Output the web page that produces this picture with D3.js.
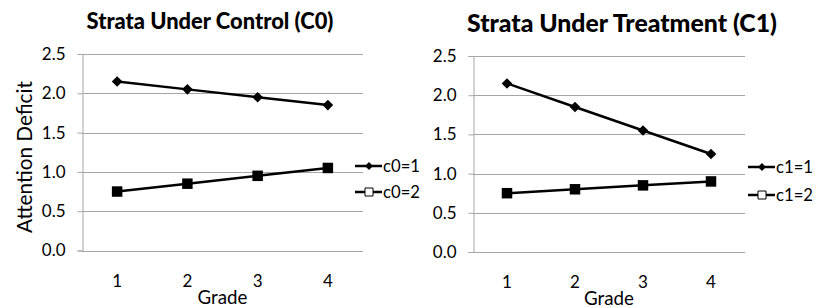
<!DOCTYPE html>
<html>
<head>
<meta charset="utf-8">
<script src="https://cdn.jsdelivr.net/npm/d3@7"></script>
<style>
  body { margin: 0; background: #fff; }
  svg { font-family: Lato, "Liberation Sans", sans-serif; }
</style>
</head>
<body>
<div id="chart"></div>
<script>
var grades = ['1', '2', '3', '4']
var yTicks = [0, 0.5, 1.0, 1.5, 2.0, 2.5]

var c0s1 = [2.15, 2.05, 1.95, 1.85]
var c0s2 = [0.75, 0.85, 0.95, 1.05]
var c1s1 = [2.15, 1.85, 1.55, 1.25]
var c1s2 = [0.75, 0.80, 0.85, 0.90]

var svg = d3.select('#chart').append('svg')
            .attr('width', 815)
            .attr('height', 308)

var panels = [
  { title: 'Strata Under Control (C0)', titleW: 247, titleX: 210, titleY: 29,
    left: 82, right: 363, top: 54, bottom: 250.5, yTitle: 'Attention Deficit',
    series: [c0s1, c0s2], names: ['c0=1', 'c0=2'],
    legX: 355, legY: [166, 192], tickY: 287, gradeY: 304 },
  { title: 'Strata Under Treatment (C1)', titleW: 310, titleX: 622, titleY: 32,
    left: 473, right: 745, top: 56, bottom: 252, yTitle: null,
    series: [c1s1, c1s2], names: ['c1=1', 'c1=2'],
    legX: 748, legY: [167, 195], tickY: 288, gradeY: 305 }
]

// scale a text's font so its width matches what the reference shows
var fit = function (sel, base, target) {
  sel.attr('font-size', base)
  var w = sel.node().getComputedTextLength()
  sel.attr('font-size', base * target / w)
  return sel
}

var diamond = d3.symbol().type(d3.symbolDiamond2).size(72)
var square = d3.symbol().type(d3.symbolSquare).size(110)

panels.forEach(function (p) {
  var x = d3.scaleBand().domain(grades).range([p.left, p.right])
  var y = d3.scaleLinear().domain([0, 2.5]).range([p.bottom, p.top])
  var g = svg.append('g')

  // gridlines
  g.selectAll('.grid').data(yTicks).enter().append('line')
   .attr('x1', p.left).attr('x2', p.right)
   .attr('y1', function (d) { return Math.round(y(d)) + 0.5 })
   .attr('y2', function (d) { return Math.round(y(d)) + 0.5 })
   .attr('stroke', '#a6a6a6').attr('stroke-width', 1)

  // y axis
  var yAxis = g.append('g')
    .attr('transform', 'translate(' + (p.left + 0.5) + ',0)')
    .call(d3.axisLeft(y).tickValues(yTicks).tickFormat(d3.format('.1f')).tickSize(5).tickPadding(12))
  yAxis.select('.domain').attr('stroke', '#a6a6a6')
  yAxis.selectAll('.tick line').attr('stroke', '#a6a6a6')
  yAxis.selectAll('text').attr('font-size', 17).attr('fill', '#000')
       .attr('font-family', 'Lato, sans-serif')

  // x tick labels
  g.selectAll('.xt').data(grades).enter().append('text')
   .attr('x', function (d) { return x(d) + x.bandwidth() / 2 })
   .attr('y', p.tickY)
   .attr('text-anchor', 'middle').attr('font-size', 17)
   .text(function (d) { return d })

  fit(g.append('text')
   .attr('x', (p.left + p.right) / 2).attr('y', p.gradeY)
   .attr('text-anchor', 'middle')
   .text('Grade'), 16, 50)

  if (p.yTitle) {
    fit(g.append('text')
     .attr('transform', 'translate(32,' + 157 + ') rotate(-90)')
     .attr('text-anchor', 'middle')
     .text(p.yTitle), 16, 152)
  }

  // title
  fit(g.append('text')
   .attr('x', p.titleX).attr('y', p.titleY)
   .attr('text-anchor', 'middle').attr('font-weight', 900)
   .text(p.title), 18, p.titleW)

  var line = d3.line()
    .x(function (d, i) { return x(grades[i]) + x.bandwidth() / 2 })
    .y(function (d) { return y(d) })

  p.series.forEach(function (s, k) {
    g.append('path').datum(s)
     .attr('d', line).attr('fill', 'none')
     .attr('stroke', '#000').attr('stroke-width', 2.5)
    g.selectAll('.m' + k).data(s).enter().append('path')
     .attr('transform', function (d, i) {
       return 'translate(' + (x(grades[i]) + x.bandwidth() / 2) + ',' + y(d) + ')'
     })
     .attr('d', k === 0 ? diamond : square)
     .attr('fill', '#000')

    // legend
    var ly = p.legY[k]
    g.append('line')
     .attr('x1', p.legX).attr('x2', p.legX + 27)
     .attr('y1', ly).attr('y2', ly)
     .attr('stroke', '#000').attr('stroke-width', 2.5)
    g.append('path')
     .attr('transform', 'translate(' + (p.legX + 14) + ',' + ly + ')')
     .attr('d', k === 0 ? d3.symbol().type(d3.symbolDiamond2).size(40) : d3.symbol().type(d3.symbolSquare).size(64))
     .attr('fill', k === 0 ? '#000' : '#fff')
     .attr('stroke', k === 0 ? 'none' : '#000').attr('stroke-width', 1)
    fit(g.append('text')
     .attr('x', p.legX + 28).attr('y', ly + 6)
     .text(p.names[k]), 16, 37)
  })
})
</script>
</body>
</html>
